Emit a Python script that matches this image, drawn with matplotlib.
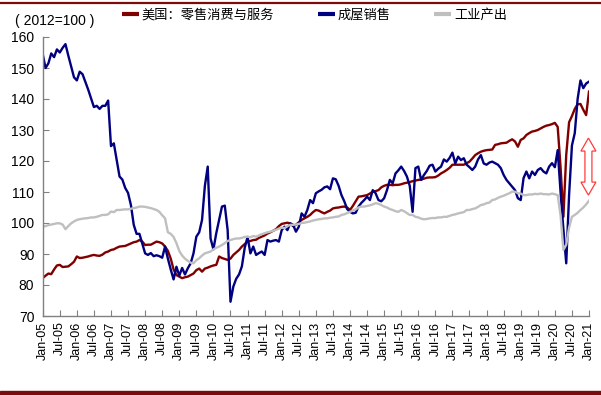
import numpy as np
import matplotlib.pyplot as plt
import matplotlib.patches as mpatches
from matplotlib.lines import Line2D

plt.rcParams['font.family'] = ['Liberation Sans', 'Noto Sans CJK SC']

# monthly, Jan-05 .. Jan-21 (index, 2012=100)
retail = [
    82.2, 83.0, 83.7, 83.5, 85.0, 86.3, 86.5, 85.8, 85.9, 86.0, 86.7, 87.5,
    89.2, 88.7, 88.8, 89.0, 89.2, 89.5, 89.7, 89.5, 89.4, 89.8, 90.5, 90.8,
    91.3, 91.5, 92.0, 92.4, 92.5, 92.6, 93.0, 93.4, 93.8, 94.0, 94.5, 94.0,
    92.9, 93.0, 93.0, 93.5, 94.0, 93.8, 93.4, 92.4, 91.0, 88.5, 85.0, 83.2,
    82.7, 82.2, 82.5, 82.7, 83.2, 83.7, 84.8, 85.3, 84.3, 85.3, 85.6, 86.0,
    86.3, 86.5, 89.2, 88.7, 88.4, 88.1, 88.5, 89.7, 90.5, 91.3, 92.4, 93.2,
    94.0, 94.2, 94.5, 94.6, 95.2, 95.6, 96.0, 96.6, 97.0, 97.5, 98.0, 99.0,
    99.7, 99.9, 100.1, 99.8, 99.0, 99.4, 100.2, 101.0, 101.5, 102.0, 102.6, 103.5,
    104.2, 104.0, 103.5, 103.1, 103.6, 104.0, 104.7, 104.9, 105.0, 105.2, 105.3, 105.0,
    104.2, 105.5, 107.0, 108.5, 108.6, 108.8, 109.0, 109.5, 110.1, 110.3, 110.6, 111.5,
    112.0, 112.3, 112.3, 112.2, 112.3, 112.3, 112.5, 112.8, 113.0, 113.2, 113.5, 113.7,
    113.9, 114.0, 114.3, 114.6, 114.7, 114.7, 114.8, 115.3, 116.0, 116.5, 117.1, 117.8,
    118.8, 118.8, 118.8, 118.8, 118.8, 119.3, 119.8, 120.8, 121.9, 122.5, 123.0, 123.3,
    123.5, 123.6, 123.7, 125.2, 125.4, 125.7, 125.8, 125.9, 126.5, 127.0, 126.3, 124.6,
    126.8, 127.3, 128.4, 129.0, 129.5, 129.7, 130.0, 130.5, 131.0, 131.4, 131.6, 131.9,
    132.3, 131.0, 118.0, 102.0, 122.0, 132.5, 134.5, 136.8, 138.3, 138.4, 136.5, 134.8,
    142.4,
]
home_sales = [
    154.5, 150.0, 151.5, 154.7, 153.5, 156.0, 155.0, 156.5, 157.7, 154.0, 150.5, 147.0,
    146.0, 148.8, 148.0, 145.5, 143.0, 140.2, 137.4, 137.8, 136.8, 137.8, 137.8, 139.5,
    124.8, 125.7, 120.3, 115.0, 114.0, 111.3, 109.7, 105.8, 99.4, 96.5, 96.5, 93.4,
    90.2, 89.7, 90.3, 89.3, 89.6, 89.3, 88.8, 92.4, 88.5, 85.0, 81.8, 85.9,
    83.0, 85.5, 83.4, 85.4, 87.0, 90.2, 95.6, 97.0, 101.0, 112.0, 118.2, 95.0,
    91.5, 96.7, 101.0, 105.3, 105.6, 97.7, 74.6, 79.5, 82.0, 83.4, 86.0, 92.0,
    95.5, 90.2, 92.4, 89.7, 90.3, 90.8, 89.7, 94.5, 94.0, 94.3, 94.5, 94.0,
    97.7, 98.8, 97.7, 99.9, 99.4, 97.2, 98.8, 103.1, 102.0, 104.2, 107.4, 106.4,
    109.6, 110.2, 110.7, 111.5, 111.8, 110.9, 114.4, 114.1, 112.0, 109.0, 107.0, 104.5,
    103.6, 103.1, 103.3, 105.3, 106.5, 107.4, 108.5, 107.4, 110.6, 109.6, 107.4, 107.0,
    108.0, 110.6, 113.9, 112.8, 116.0, 117.0, 118.2, 116.8, 115.0, 112.0, 103.6, 117.7,
    118.2, 113.9, 115.5, 116.8, 118.5, 118.8, 116.6, 117.5, 118.2, 120.5, 119.8, 121.0,
    122.7, 119.2, 121.4, 120.3, 120.9, 118.8, 118.0, 117.1, 118.2, 120.5, 121.9, 119.2,
    118.8, 119.5, 119.8, 119.3, 118.8, 117.7, 115.5, 113.9, 112.8, 111.7, 110.6, 108.0,
    107.4, 114.5, 116.6, 114.4, 116.6, 115.5, 117.1, 117.7, 116.6, 116.0, 118.2, 119.3,
    118.0, 123.5, 110.0, 98.0, 87.0, 109.0, 125.0, 129.0, 140.0, 146.0, 143.5, 145.0,
    145.6,
]
industrial = [
    98.8, 99.0, 99.3, 99.5, 99.7, 99.9, 99.9, 99.5, 98.0, 99.0, 99.9, 100.5,
    101.0, 101.2, 101.4, 101.5, 101.6, 101.8, 101.8, 102.0, 102.3, 102.6, 102.6, 102.8,
    103.7, 103.5, 104.2, 104.2, 104.3, 104.4, 104.4, 104.6, 104.8, 105.0, 105.3, 105.3,
    105.2, 105.0, 104.8, 104.5, 104.2, 103.6, 102.5, 101.5, 97.0, 96.5, 95.5, 93.5,
    91.0, 89.5, 88.5, 87.8, 87.2, 87.0, 88.0, 88.6, 89.5, 90.2, 90.5, 90.8,
    91.5, 92.0, 92.4, 92.9, 93.5, 94.2, 94.5, 94.8, 95.0, 95.0, 95.2, 95.5,
    95.6, 95.4, 95.8, 95.6, 96.0, 96.4, 96.7, 97.0, 97.2, 97.5, 97.8, 98.2,
    98.5, 98.3, 99.0, 99.4, 99.4, 99.5, 99.7, 100.0, 100.1, 100.3, 100.5, 100.8,
    101.0, 101.2, 101.3, 101.5, 101.5, 101.7, 101.8, 102.0, 102.1, 102.6, 102.8, 103.2,
    103.6, 104.0, 104.4, 105.0, 105.3, 105.3, 105.5, 105.7, 106.0, 106.4, 106.2, 105.8,
    105.3, 105.0, 104.5, 104.2, 103.8, 103.6, 104.2, 103.8, 103.2, 102.6, 102.6, 102.0,
    101.8, 101.4, 101.2, 101.3, 101.5, 101.6, 101.6, 101.8, 101.8, 102.0, 102.0, 102.3,
    102.6, 102.8, 103.1, 103.3, 103.5, 104.2, 104.2, 104.5, 104.7, 105.2, 105.8, 106.0,
    106.4, 106.6, 107.4, 107.6, 108.1, 108.5, 108.8, 109.2, 109.6, 110.1, 110.1, 109.6,
    109.5, 109.0, 109.0, 109.2, 109.2, 109.4, 109.3, 109.5, 109.3, 109.3, 109.2, 109.5,
    109.3, 109.0, 102.5, 91.3, 93.0, 98.5, 102.0, 102.6, 103.3, 104.2, 105.0, 106.0,
    107.2,
]
tick_labels = [
    'Jan-05', 'Jul-05', 'Jan-06', 'Jul-06', 'Jan-07', 'Jul-07', 'Jan-08', 'Jul-08',
    'Jan-09', 'Jul-09', 'Jan-10', 'Jul-10', 'Jan-11', 'Jul-11', 'Jan-12', 'Jul-12',
    'Jan-13', 'Jul-13', 'Jan-14', 'Jul-14', 'Jan-15', 'Jul-15', 'Jan-16', 'Jul-16',
    'Jan-17', 'Jul-17', 'Jan-18', 'Jul-18', 'Jan-19', 'Jul-19', 'Jan-20', 'Jul-20',
    'Jan-21',
]
labels = ['美国：零售消费与服务', '成屋销售', '工业产出']
colors = ['#800000', '#000080', '#BFBFBF']
gap_low, gap_high = 109.0, 127.4   # span marked by the red arrow

maroon = '#7A0C0C'
months = np.arange(len(retail))

fig = plt.figure(figsize=(6.01, 3.95), dpi=100)
ax = fig.add_axes([42.7 / 601, 79 / 395, 546.3 / 601, 279 / 395])

for series, c in zip([retail, home_sales, industrial], colors):
    ax.plot(months, series, color=c, lw=1.7, solid_joinstyle='round')

ax.set_xlim(0, 192)
ax.set_ylim(70, 160)
ax.set_yticks(np.arange(70, 161, 10))
ax.set_xticks(np.arange(0, 193, 6))
ax.set_xticklabels(tick_labels, rotation=90, fontsize=9)
ax.tick_params(axis='y', labelsize=10, direction='in', length=4, color='#808080', pad=6)
ax.tick_params(axis='x', direction='in', length=4, color='#808080', pad=4)
for s in ['top', 'right']:
    ax.spines[s].set_visible(False)
for s in ['left', 'bottom']:
    ax.spines[s].set_color('#808080')
    ax.spines[s].set_linewidth(1)

# hollow double-headed arrow (sizes in pixels converted to data units)
px_x = 192 / 546.3
px_y = 90 / 279
xc = 191.8
hs, hh, hl = 3.5 * px_x, 7.5 * px_x, 13 * px_y
pts = [(xc - hs, gap_low + hl), (xc - hh, gap_low + hl), (xc, gap_low),
       (xc + hh, gap_low + hl), (xc + hs, gap_low + hl), (xc + hs, gap_high - hl),
       (xc + hh, gap_high - hl), (xc, gap_high), (xc - hh, gap_high - hl),
       (xc - hs, gap_high - hl)]
ax.add_patch(mpatches.Polygon(pts, closed=True, facecolor='white',
                              edgecolor='#FF3B3B', lw=0.9, clip_on=False, zorder=5))

handles = [Line2D([], [], color=c, lw=3, solid_capstyle='butt') for c in colors]
ax.legend(handles, labels, loc='upper left', bbox_to_anchor=(122 / 601, 1 - 9 / 395),
          bbox_transform=fig.transFigure, ncol=3, frameon=False, fontsize=9.5,
          handlelength=1.3, handletextpad=0.2, columnspacing=3.3,
          borderpad=0, borderaxespad=0)

fig.text(15 / 601, 1 - 21 / 395, '( 2012=100 )', fontsize=10, va='center', ha='left')

fig.add_artist(Line2D([0, 1], [1 - 3 / 395] * 2, color=maroon, lw=1.6,
                      transform=fig.transFigure))
fig.add_artist(mpatches.Rectangle((0, 0), 1, 4.5 / 395, color=maroon,
                                  transform=fig.transFigure))

fig.savefig('out.png', dpi=100)
